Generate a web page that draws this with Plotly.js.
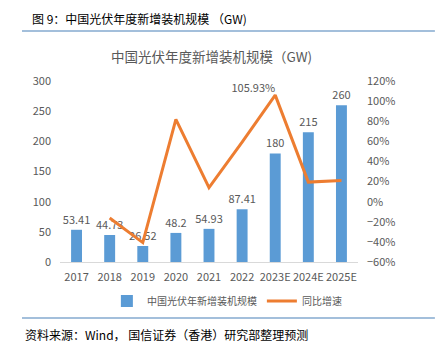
<!DOCTYPE html>
<html><head><meta charset="utf-8">
<script src="https://cdn.plot.ly/plotly-3.0.1.min.js"></script>
<style>html,body{margin:0;padding:0;background:#fff}#c{width:441px;height:354px}</style>
</head><body><div id="c"></div>
<script>
var categories = ['2017','2018','2019','2020','2021','2022','2023E','2024E','2025E'];
var capacity = [53.41,44.73,26.52,48.2,54.93,87.41,180,215,260];
var growthYears = ['2018','2019','2020','2021','2022','2023E','2024E','2025E'];
var growth = [-16.25,-40.71,81.75,13.96,59.13,105.93,19.44,20.93];
var growthLabels = ['','','','','','105.93%','',''];
var F = '"Noto Sans CJK SC","Noto Sans",sans-serif';
var traces = [
 {type:'bar', x:categories, y:capacity, name:'中国光伏年新增装机规模',
  marker:{color:'#5B9BD5'}, width:0.33,
  text:capacity.map(String), textposition:'outside', cliponaxis:false, constraintext:'none',
  textfont:{size:11,color:'#595959',family:F}},
 {type:'scatter', mode:'lines+text', x:growthYears, y:growth, yaxis:'y2', name:'同比增速',
  line:{color:'#ED7D31',width:3}, text:growthLabels, textposition:'top left', cliponaxis:false,
  textfont:{size:11,color:'#595959',family:F}}
];
var layout = {
 width:441, height:354, margin:{l:60,r:83,t:81,b:92},
 paper_bgcolor:'#fff', plot_bgcolor:'#fff', font:{family:F,color:'#595959',size:11},
 showlegend:true, bargap:0.67,
 legend:{orientation:'h', x:0.56, xanchor:'center', y:-0.215, yanchor:'middle', font:{size:10,color:'#595959'}, traceorder:'normal'},
 xaxis:{type:'category', showgrid:false, showline:true, linecolor:'#D9D9D9', linewidth:1, ticks:'', tickfont:{size:11,color:'#595959'}, ticklabelstandoff:5, fixedrange:true},
 yaxis:{range:[0,300], dtick:50, showgrid:false, zeroline:false, showline:false, ticks:'', tickfont:{size:11,color:'#595959'}, ticklabelstandoff:8},
 yaxis2:{overlaying:'y', side:'right', range:[-60,120], dtick:20, ticksuffix:'%', showgrid:false, zeroline:false, showline:false, ticks:'', tickfont:{size:11,color:'#595959'}, ticklabelstandoff:8},
 shapes:[
  {type:'line', xref:'paper', yref:'paper', x0:-0.1275, x1:1.258, y0:1.276, y1:1.276, line:{color:'#A3BFDB',width:2}},
  {type:'line', xref:'paper', yref:'paper', x0:-0.1275, x1:1.258, y0:-0.309, y1:-0.309, line:{color:'#A3BFDB',width:2}}
 ],
 annotations:[
  {xref:'paper',yref:'paper',x:-0.1007,y:1.348,xanchor:'left',yanchor:'middle',showarrow:false,text:'图 9：中国光伏年度新增装机规模 （GW)',font:{size:12,color:'#000',family:F}},
  {xref:'paper',yref:'paper',x:0.507,y:1.138,xanchor:'center',yanchor:'middle',showarrow:false,text:'中国光伏年度新增装机规模（GW)',font:{size:13.5,color:'#595959',family:F}},
  {xref:'paper',yref:'paper',x:-0.124,y:-0.398,xanchor:'left',yanchor:'middle',showarrow:false,text:'资料来源：Wind， 国信证券（香港）研究部整理预测',font:{size:12,color:'#000',family:F}}
 ]
};
Plotly.newPlot('c', traces, layout, {displayModeBar:false, staticPlot:true});
</script></body></html>
